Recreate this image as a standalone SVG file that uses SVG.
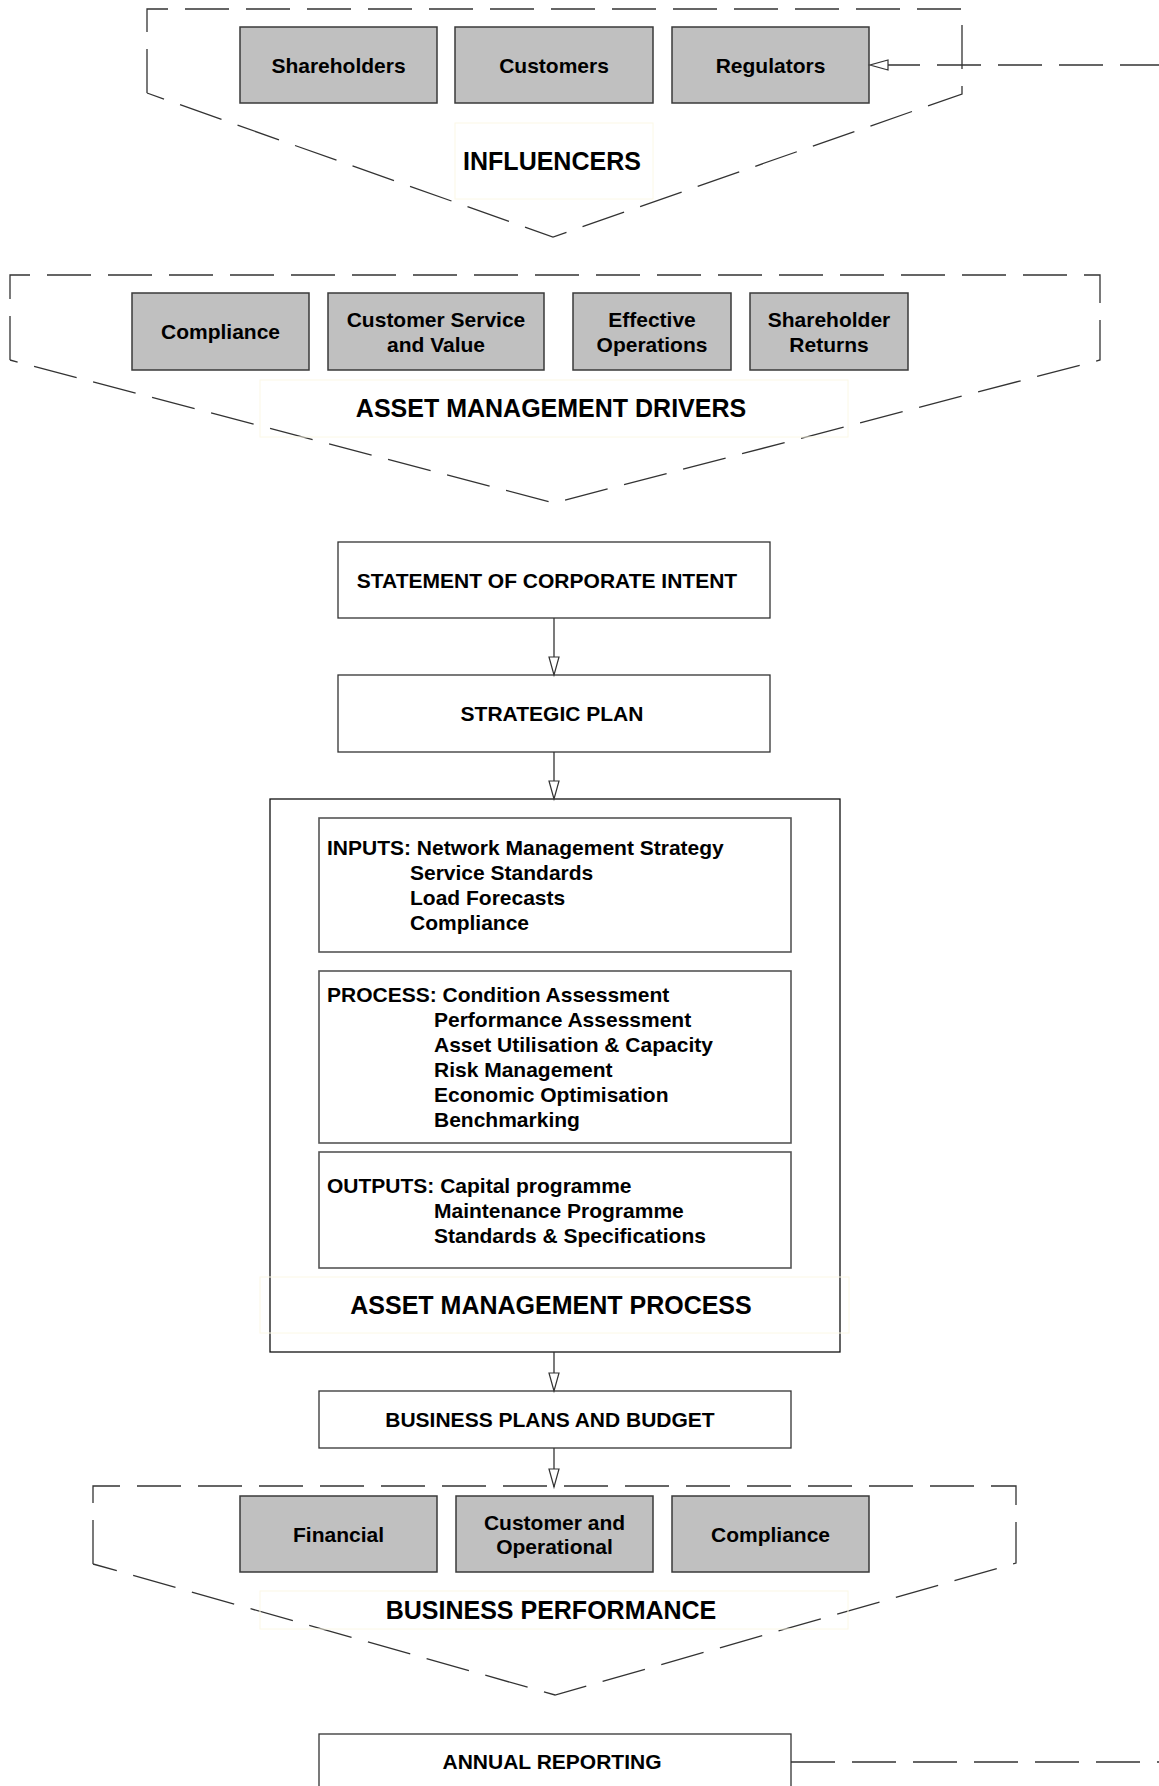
<svg xmlns="http://www.w3.org/2000/svg" width="1159" height="1786" viewBox="0 0 1159 1786">
<style>
  .bg{fill:#ffffff}
  .grp{fill:none;stroke:#333;stroke-width:1.3;stroke-dasharray:44 17}
  .gbox{fill:#c0c0c0;stroke:#3a3a3a;stroke-width:1.5}
  .wbox{fill:#ffffff;stroke:#333;stroke-width:1.3}
  .ibox{fill:#ffffff;stroke:#555;stroke-width:1.6}
  .obox{fill:none;stroke:#111;stroke-width:1.3}
  .lbl{fill:none;stroke:#fbf8e6;stroke-width:1}
  .t{font-family:"Liberation Sans",Arial,sans-serif;font-weight:bold;font-size:21px;fill:#000}
  .c{text-anchor:middle}
  .big{font-size:25px}
  .conn{fill:none;stroke:#333;stroke-width:1.3}
  .dash{fill:none;stroke:#333;stroke-width:1.3;stroke-dasharray:44 17}
</style>
<defs>
  <marker id="arr" markerUnits="userSpaceOnUse" markerWidth="22" markerHeight="14" refX="19" refY="6" orient="auto">
    <path d="M1,1 L19,6 L1,11 z" fill="#fff" stroke="#333" stroke-width="1.2"/>
  </marker>
</defs>
<rect class="bg" x="0" y="0" width="1159" height="1786"/>

<g id="influencers">
  <path class="grp" d="M147,93 L147,9 L962,9 L962,94 L553,237 L147,93"/>
  <rect class="lbl" x="455" y="123" width="198" height="76"/>
  <text class="t c big" x="552" y="170">INFLUENCERS</text>
</g>
<g id="shareholders">
  <rect class="gbox" x="240" y="27" width="197" height="76"/>
  <text class="t c" x="338.5" y="72.5">Shareholders</text>
</g>
<g id="customers">
  <rect class="gbox" x="455" y="27" width="198" height="76"/>
  <text class="t c" x="554" y="72.5">Customers</text>
</g>
<g id="regulators">
  <rect class="gbox" x="672" y="27" width="197" height="76"/>
  <text class="t c" x="770.5" y="72.5">Regulators</text>
</g>

<g id="drivers">
  <path class="grp" d="M10,360 L10,275 L1100,275 L1100,360 L554,503 L10,360"/>
  <rect class="lbl" x="260" y="380" width="588" height="57"/>
  <text class="t c big" x="551" y="417">ASSET MANAGEMENT DRIVERS</text>
</g>
<g id="drv-compliance">
  <rect class="gbox" x="132" y="293" width="177" height="77"/>
  <text class="t c" x="220.5" y="339">Compliance</text>
</g>
<g id="drv-customer">
  <rect class="gbox" x="328" y="293" width="216" height="77"/>
  <text class="t c" x="436" y="326.5">Customer Service</text>
  <text class="t c" x="436" y="351.5">and Value</text>
</g>
<g id="drv-operations">
  <rect class="gbox" x="573" y="293" width="158" height="77"/>
  <text class="t c" x="652" y="326.5">Effective</text>
  <text class="t c" x="652" y="351.5">Operations</text>
</g>
<g id="drv-returns">
  <rect class="gbox" x="750" y="293" width="158" height="77"/>
  <text class="t c" x="829" y="326.5">Shareholder</text>
  <text class="t c" x="829" y="351.5">Returns</text>
</g>

<g id="sci">
  <rect class="wbox" x="338" y="542" width="432" height="76"/>
  <text class="t c" x="547" y="588">STATEMENT OF CORPORATE INTENT</text>
</g>
<g id="strategic-plan">
  <rect class="wbox" x="338" y="675" width="432" height="77"/>
  <text class="t c" x="552" y="721">STRATEGIC PLAN</text>
</g>

<g id="amp">
  <rect class="obox" x="270" y="799" width="570" height="553"/>
  <rect class="lbl" x="260" y="1277" width="589" height="56"/>
  <text class="t c big" x="551" y="1314">ASSET MANAGEMENT PROCESS</text>
</g>
<g id="inputs">
  <rect class="ibox" x="319" y="818" width="472" height="134"/>
  <text class="t" x="327" y="854.5">INPUTS: Network Management Strategy</text>
  <text class="t" x="410" y="879.5">Service Standards</text>
  <text class="t" x="410" y="904.5">Load Forecasts</text>
  <text class="t" x="410" y="929.5">Compliance</text>
</g>
<g id="process">
  <rect class="ibox" x="319" y="971" width="472" height="172"/>
  <text class="t" x="327" y="1002">PROCESS: Condition Assessment</text>
  <text class="t" x="434" y="1027">Performance Assessment</text>
  <text class="t" x="434" y="1052">Asset Utilisation &amp; Capacity</text>
  <text class="t" x="434" y="1077">Risk Management</text>
  <text class="t" x="434" y="1102">Economic Optimisation</text>
  <text class="t" x="434" y="1127">Benchmarking</text>
</g>
<g id="outputs">
  <rect class="ibox" x="319" y="1152" width="472" height="116"/>
  <text class="t" x="327" y="1193">OUTPUTS: Capital programme</text>
  <text class="t" x="434" y="1218">Maintenance Programme</text>
  <text class="t" x="434" y="1243">Standards &amp; Specifications</text>
</g>

<g id="business-plans">
  <rect class="wbox" x="319" y="1391" width="472" height="57"/>
  <text class="t c" x="550" y="1426.5">BUSINESS PLANS AND BUDGET</text>
</g>

<g id="business-performance">
  <path class="grp" d="M93,1564 L93,1486 L1016,1486 L1016,1563 L555,1695 L93,1564"/>
  <rect class="lbl" x="260" y="1591" width="588" height="38"/>
  <text class="t c big" x="551" y="1619">BUSINESS PERFORMANCE</text>
</g>
<g id="bp-financial">
  <rect class="gbox" x="240" y="1496" width="197" height="76"/>
  <text class="t c" x="338.5" y="1541.5">Financial</text>
</g>
<g id="bp-customer">
  <rect class="gbox" x="456" y="1496" width="197" height="76"/>
  <text class="t c" x="554.5" y="1529.5">Customer and</text>
  <text class="t c" x="554.5" y="1554">Operational</text>
</g>
<g id="bp-compliance">
  <rect class="gbox" x="672" y="1496" width="197" height="76"/>
  <text class="t c" x="770.5" y="1541.5">Compliance</text>
</g>

<g id="annual-reporting">
  <rect class="wbox" x="319" y="1734" width="472" height="80"/>
  <text class="t c" x="552" y="1769">ANNUAL REPORTING</text>
</g>

<g id="connectors">
  <path class="conn" d="M554,618 L554,675" marker-end="url(#arr)"/>
  <path class="conn" d="M554,752 L554,799" marker-end="url(#arr)"/>
  <path class="conn" d="M554,1352 L554,1391" marker-end="url(#arr)"/>
  <path class="conn" d="M554,1448 L554,1487" marker-end="url(#arr)"/>
  <path class="dash" d="M791,1762 L1180,1762"/>
  <path class="dash" d="M1164,65 L870,65" marker-end="url(#arr)"/>
</g>
</svg>
